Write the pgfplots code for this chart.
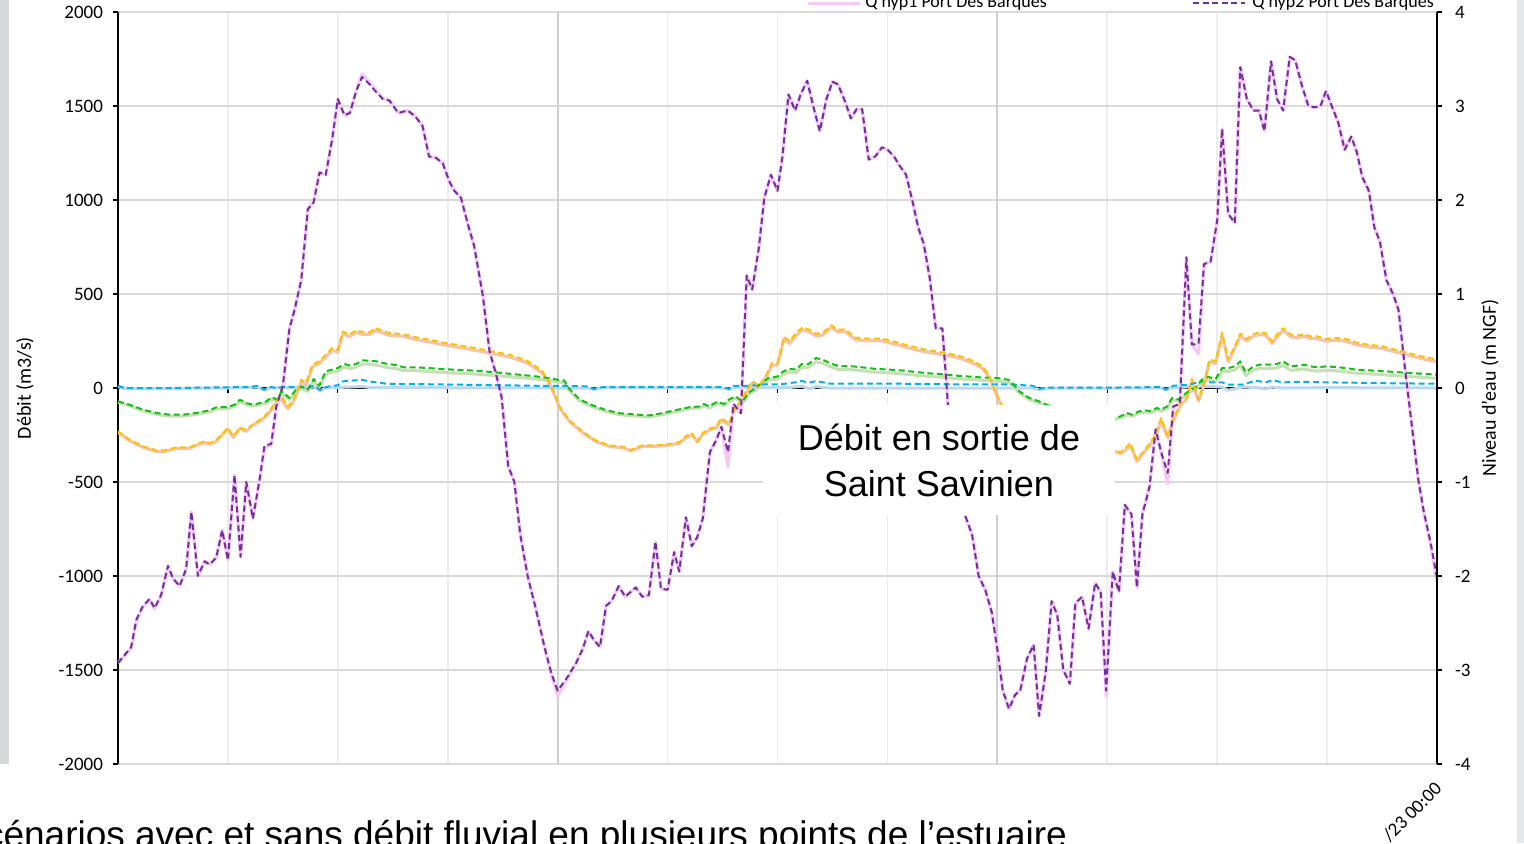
\documentclass[border=0pt]{standalone}
\usepackage{fontspec}
\setmainfont{Carlito}
\newfontfamily\arialf{Liberation Sans}
\usepackage{pgfplots}
\usepackage{pgfplotstable}
\pgfplotsset{compat=1.18}
\definecolor{cPurple}{HTML}{7030A0}
\definecolor{cPink}{HTML}{F8C8F4}
\definecolor{cGold}{HTML}{FFC000}
\definecolor{cSalmon}{HTML}{F6C4A4}
\definecolor{cGreen}{HTML}{12C012}
\definecolor{cPaleGreen}{HTML}{C5E0B4}
\definecolor{cBlue}{HTML}{00B0F0}
\definecolor{cPaleBlue}{HTML}{BDD7EE}
\definecolor{gridH}{HTML}{D9D9D9}
\definecolor{gridV}{HTML}{EDEDED}
\definecolor{gridV2}{HTML}{D0D0D0}
\definecolor{stripL}{HTML}{D5D9D9}
\definecolor{stripR}{HTML}{E5E8EB}

\pgfplotstableread{
x a b
0 -1463 -1463
0.12 -1378 -1385
0.167 -1232 -1240
0.227 -1159 -1165
0.288 -1122 -1125
0.333 -1171 -1175
0.394 -1098 -1100
0.455 -946 -950
0.5 -1012 -1012
0.56 -1054 -1054
0.62 -963 -963
0.667 -659 -659
0.727 -1000 -1000
0.788 -922 -922
0.833 -939 -939
0.894 -902 -902
0.948 -756 -756
1.0 -915 -915
1.06 -463 -463
1.115 -898 -898
1.167 -500 -500
1.227 -695 -695
1.288 -488 -488
1.333 -305 -320
1.394 -298 -300
1.44 -98 -110
1.5 12 12
1.56 317 317
1.606 415 415
1.667 573 573
1.727 951 951
1.78 988 988
1.833 1146 1146
1.89 1134 1134
1.95 1329 1329
2.0 1537 1537
2.06 1451 1451
2.11 1463 1463
2.167 1580 1580
2.22 1654 1670
2.29 1615 1625
2.35 1573 1580
2.41 1537 1540
2.47 1529 1529
2.55 1463 1463
2.636 1476 1476
2.706 1444 1444
2.77 1395 1395
2.83 1232 1232
2.894 1224 1224
2.955 1195 1195
3.015 1098 1098
3.06 1049 1049
3.12 1012 1012
3.18 878 878
3.24 756 756
3.32 488 488
3.38 195 195
3.44 73 73
3.49 -49 -49
3.55 -415 -415
3.606 -500 -500
3.66 -780 -780
3.727 -1000 -1000
3.8 -1171 -1171
3.88 -1378 -1378
3.94 -1512 -1520
4.0 -1610 -1640
4.09 -1537 -1545
4.167 -1463 -1463
4.227 -1390 -1390
4.28 -1293 -1293
4.33 -1341 -1341
4.385 -1378 -1378
4.44 -1159 -1159
4.49 -1134 -1134
4.555 -1054 -1054
4.615 -1110 -1110
4.71 -1061 -1061
4.77 -1110 -1110
4.83 -1102 -1102
4.89 -817 -817
4.94 -1068 -1068
5.0 -1073 -1073
5.06 -873 -873
5.106 -976 -976
5.167 -688 -688
5.22 -841 -841
5.27 -793 -793
5.32 -695 -695
5.385 -341 -341
5.44 -280 -280
5.49 -207 -207
5.55 -341 -420
5.6 -85 -85
5.667 -134 -134
5.72 598 598
5.77 524 524
5.83 744 744
5.88 1012 1012
5.94 1134 1134
6.0 1049 1049
6.045 1232 1232
6.1 1561 1561
6.16 1476 1476
6.21 1561 1561
6.27 1634 1634
6.33 1488 1488
6.385 1366 1366
6.445 1537 1537
6.5 1629 1629
6.55 1615 1615
6.615 1524 1524
6.667 1434 1434
6.72 1483 1483
6.77 1483 1483
6.83 1215 1215
6.89 1232 1232
6.95 1280 1280
7.0 1268 1268
7.06 1232 1232
7.11 1183 1183
7.17 1134 1134
7.23 988 988
7.28 854 854
7.33 768 768
7.385 585 585
7.44 317 317
7.5 317 317
7.55 -85 -85
7.6 -300 -300
7.71 -683 -683
7.77 -780 -780
7.83 -1000 -1000
7.89 -1073 -1073
7.95 -1195 -1195
8.0 -1390 -1390
8.05 -1610 -1610
8.106 -1707 -1707
8.16 -1634 -1634
8.21 -1605 -1605
8.27 -1439 -1439
8.33 -1366 -1366
8.38 -1744 -1744
8.44 -1512 -1512
8.494 -1134 -1134
8.545 -1207 -1207
8.6 -1500 -1500
8.66 -1573 -1573
8.71 -1146 -1146
8.77 -1110 -1110
8.83 -1280 -1280
8.89 -1037 -1037
8.94 -1085 -1085
8.99 -1610 -1640
9.05 -976 -976
9.106 -1085 -1085
9.16 -622 -622
9.22 -671 -671
9.27 -1061 -1061
9.32 -671 -671
9.385 -524 -524
9.44 -220 -220
9.49 -341 -341
9.55 -451 -510
9.6 -98 -98
9.66 -85 -85
9.72 695 695
9.77 232 232
9.83 232 180
9.88 659 659
9.94 671 671
10.0 890 890
10.045 1378 1378
10.1 927 927
10.16 878 878
10.21 1707 1707
10.27 1537 1537
10.33 1476 1476
10.38 1476 1476
10.43 1366 1366
10.49 1737 1737
10.545 1537 1537
10.6 1476 1476
10.66 1761 1761
10.71 1744 1744
10.77 1610 1610
10.83 1500 1500
10.89 1493 1493
10.94 1500 1500
10.99 1580 1580
11.05 1488 1488
11.1 1415 1415
11.16 1268 1268
11.22 1337 1337
11.27 1256 1256
11.32 1122 1122
11.38 1049 1049
11.43 854 854
11.48 780 780
11.54 573 573
11.6 500 500
11.65 415 415
11.71 98 98
11.77 -195 -195
11.83 -488 -488
11.88 -659 -665
11.94 -817 -830
12.0 -1012 -1030
}\tPurple

\pgfplotstableread{
x a b
0 -230 -236
0.106 -275 -281
0.227 -310 -316
0.35 -332 -338
0.424 -332 -338
0.53 -316 -322
0.65 -316 -322
0.727 -296 -302
0.79 -284 -290
0.833 -293 -299
0.894 -278 -284
0.955 -239 -245
1.0 -213 -219
1.05 -257 -263
1.11 -209 -215
1.167 -225 -231
1.22 -195 -201
1.27 -177 -183
1.33 -154 -160
1.39 -112 -120
1.44 -71 -80
1.485 -44 -60
1.545 -98 -110
1.59 -71 -80
1.636 -9 -20
1.667 44 30
1.71 27 15
1.77 124 112
1.83 142 130
1.89 177 165
1.95 213 200
2.0 204 192
2.045 301 290
2.106 284 272
2.167 307 295
2.227 298 286
2.29 296 284
2.34 319 307
2.4 307 295
2.46 293 281
2.59 287 275
2.71 270 258
2.83 257 245
2.95 243 231
3.076 230 218
3.2 218 206
3.32 204 192
3.44 191 179
3.56 177 165
3.65 160 148
3.73 142 130
3.8 115 103
3.86 89 77
3.92 35 25
3.97 -27 -35
4.015 -98 -104
4.106 -171 -177
4.227 -232 -238
4.35 -280 -286
4.47 -305 -311
4.59 -312 -318
4.667 -329 -335
4.77 -305 -311
4.89 -305 -311
5.015 -298 -304
5.106 -288 -294
5.167 -256 -265
5.22 -239 -250
5.27 -288 -285
5.32 -239 -248
5.385 -215 -222
5.44 -207 -214
5.49 -159 -170
5.56 -190 -196
5.6 -122 -130
5.66 -73 -82
5.72 -12 -22
5.77 37 25
5.83 12 2
5.89 61 50
5.95 134 122
6.0 134 122
6.06 273 261
6.11 249 237
6.17 293 281
6.227 322 310
6.29 310 298
6.35 288 276
6.41 293 281
6.49 334 322
6.55 310 298
6.615 312 300
6.71 268 256
6.83 263 251
6.95 263 251
7.076 244 232
7.2 224 212
7.32 207 195
7.44 195 183
7.56 183 171
7.68 166 154
7.77 146 134
7.86 117 105
7.92 73 63
7.97 0 -8
8.015 -61 -68
8.1 -160 -166
8.3 -240 -246
8.5 -290 -296
8.8 -320 -326
9.0 -330 -336
9.06 -328 -334
9.12 -342 -350
9.167 -319 -330
9.21 -293 -305
9.27 -381 -390
9.33 -337 -345
9.38 -301 -310
9.44 -248 -258
9.49 -160 -175
9.55 -257 -265
9.6 -168 -178
9.667 -80 -90
9.72 -53 -62
9.77 48 30
9.83 -62 -70
9.88 27 15
9.93 151 139
9.985 142 130
10.045 293 281
10.1 151 139
10.16 222 210
10.21 289 277
10.27 261 249
10.33 287 275
10.385 296 284
10.44 293 281
10.5 248 236
10.545 284 272
10.6 319 307
10.67 284 272
10.73 278 266
10.79 287 275
10.85 275 263
10.91 275 263
10.99 261 249
11.076 266 254
11.17 261 249
11.26 243 231
11.38 230 218
11.5 222 210
11.62 204 192
11.74 186 174
11.86 168 156
12.0 151 139
}\tOrange

\pgfplotstableread{
x a b
0 -71 -76
0.106 -89 -95
0.227 -115 -122
0.35 -133 -141
0.47 -142 -150
0.59 -142 -150
0.71 -133 -141
0.83 -119 -127
0.894 -103 -112
1.0 -101 -109
1.06 -89 -97
1.11 -62 -72
1.167 -80 -88
1.227 -89 -96
1.29 -80 -88
1.35 -71 -80
1.4 -48 -58
1.445 -62 -70
1.49 -18 -28
1.56 -53 -62
1.62 -9 -18
1.667 9 -2
1.727 -9 -18
1.78 48 35
1.83 12 2
1.89 89 75
1.95 98 84
2.0 106 90
2.06 128 112
2.11 119 103
2.17 129 112
2.227 147 128
2.29 145 126
2.35 142 122
2.44 129 110
2.53 122 103
2.6 110 92
2.71 110 92
2.83 106 88
2.95 101 83
3.076 97 79
3.2 94 76
3.32 89 71
3.44 83 66
3.56 76 60
3.68 69 54
3.8 62 48
3.92 53 40
4.0 44 32
4.06 40 28
4.1 0 -10
4.2 -61 -70
4.32 -93 -101
4.44 -117 -125
4.56 -134 -142
4.71 -141 -149
4.83 -146 -154
4.95 -134 -142
5.076 -117 -125
5.14 -110 -118
5.2 -102 -110
5.29 -98 -106
5.33 -85 -95
5.38 -98 -106
5.45 -73 -83
5.515 -85 -93
5.56 -61 -70
5.62 -44 -53
5.68 -73 -80
5.74 -24 -33
5.8 0 -10
5.86 29 18
5.92 54 42
6.0 61 48
6.045 85 70
6.1 102 86
6.17 98 82
6.22 127 110
6.28 127 110
6.35 159 140
6.41 151 132
6.47 134 116
6.56 115 97
6.65 117 99
6.77 110 92
6.89 102 84
7.015 98 80
7.14 93 75
7.26 85 68
7.38 78 62
7.5 73 57
7.62 66 50
7.74 61 46
7.86 56 41
7.985 54 38
8.1 44 30
8.136 27 15
8.2 -18 -26
8.29 -53 -61
8.38 -71 -79
8.45 -89 -97
8.6 -120 -128
8.8 -150 -158
9.0 -160 -168
9.06 -160 -168
9.12 -151 -159
9.18 -133 -142
9.227 -142 -150
9.29 -124 -133
9.35 -119 -128
9.4 -124 -132
9.45 -106 -115
9.49 -115 -123
9.545 -98 -107
9.59 -53 -63
9.65 -62 -71
9.7 -35 -45
9.76 -9 -19
9.81 5 -6
9.86 44 30
9.92 59 44
9.985 48 34
10.045 106 88
10.1 106 88
10.16 115 96
10.21 142 122
10.26 83 66
10.33 115 96
10.385 124 104
10.44 124 104
10.49 124 104
10.545 128 107
10.6 142 120
10.67 115 94
10.73 119 98
10.79 124 102
10.85 115 94
10.91 110 90
10.99 115 94
11.076 112 92
11.17 106 86
11.26 98 79
11.38 94 75
11.5 90 71
11.62 85 66
11.74 80 61
11.86 76 57
12.0 71 52
}\tGreen

\pgfplotstableread{
x v
0 12
0.06 0
0.5 0
1.0 4
1.2 5
1.27 12
1.33 -9
1.39 5
1.44 0
1.5 5
1.74 5
1.79 12
1.84 -12
1.89 5
1.95 12
2.0 14
2.045 35
2.1 39
2.17 41
2.22 44
2.29 35
2.35 30
2.44 23
2.6 21
2.83 20
3.08 18
3.32 16
3.56 14
3.8 12
4.0 12
4.2 10
4.27 8
4.33 -5
4.41 5
5.0 5
5.5 5
5.56 -5
5.6 12
5.74 12
5.89 20
6.0 20
6.1 24
6.22 37
6.29 29
6.35 37
6.47 24
6.65 24
6.95 24
7.26 22
7.56 20
7.86 20
8.1 20
8.32 12
8.38 -5
8.45 2
9.0 2
9.5 5
9.53 -9
9.6 12
9.74 18
9.86 35
9.92 30
10.045 30
10.1 18
10.23 18
10.35 39
10.44 30
10.5 41
10.6 30
10.7 32
10.83 32
10.99 30
11.26 28
11.56 25
12.0 23
}\tBlue

\pgfplotstableread{
x v
0 8
0.06 -3
1.0 0
1.27 5
1.33 -12
1.39 2
1.79 5
1.84 -15
1.89 0
2.0 3
2.1 5
2.22 8
2.29 3
2.6 2
4.0 0
4.27 0
4.33 -8
4.41 2
5.5 0
5.56 -8
5.6 3
6.1 2
6.22 10
6.29 -5
6.35 8
6.47 0
8.1 0
8.32 0
8.38 -8
8.45 0
9.5 0
9.53 -10
9.6 2
9.86 10
10.045 5
10.1 -12
10.23 5
10.35 3
10.44 -5
10.5 5
10.6 0
11.0 2
12.0 0
}\tPaleBlue

\begin{document}
\begin{tikzpicture}
\begin{axis}[
  width=659.5pt, height=376pt, scale only axis,
  at={(0pt,0pt)}, anchor=south west,
  xmin=0, xmax=12, ymin=-2000, ymax=2000,
  axis y line*=left, axis x line*=middle,
  axis line style={black, line width=0.7pt},
  xtick={1,2,3,4,5,6,7,8,9,10,11}, xticklabels={},
  ytick={-2000,-1500,-1000,-500,0,500,1000,1500,2000},
  grid=major,
  x grid style={gridV, line width=0.8pt},
  y grid style={gridH, line width=0.8pt},
  tick align=outside, major tick length=2.5pt,
  tick style={black, line width=0.6pt},
  yticklabel style={font=\fontsize{9.5}{10}\selectfont, xshift=-1.5pt},
  /pgf/number format/1000 sep={},
  /pgf/number format/assume math mode=true,
  every axis y label/.style={at={(axis description cs:-0.0705,0.5)}, anchor=center, rotate=90, font=\fontsize{10}{12}\selectfont},
  ylabel={Débit (m3/s)},
  line join=round,
]
\draw[gridV2, line width=0.9pt] (axis cs:4,-2000) -- (axis cs:4,2000);
\draw[gridV2, line width=0.9pt] (axis cs:8,-2000) -- (axis cs:8,2000);
\addplot[cPaleBlue, line width=1.5pt] table[x=x,y=v] {\tPaleBlue};
\addplot[cPaleGreen, line width=1.5pt] table[x=x,y=b] {\tGreen};
\addplot[cSalmon, line width=1.5pt] table[x=x,y=b] {\tOrange};
\addplot[cPink, line width=1.6pt] table[x=x,y=b] {\tPurple};
\addplot[cBlue, line width=1pt, dash pattern=on 3pt off 1.8pt] table[x=x,y=v] {\tBlue};
\addplot[cGreen, line width=1pt, dash pattern=on 3pt off 1.8pt] table[x=x,y=a] {\tGreen};
\addplot[cGold, line width=1pt, dash pattern=on 3pt off 1.8pt] table[x=x,y=a] {\tOrange};
\addplot[cPurple, line width=1pt, dash pattern=on 3pt off 1.8pt] table[x=x,y=a] {\tPurple};
\end{axis}
\begin{axis}[
  width=659.5pt, height=376pt, scale only axis,
  at={(0pt,0pt)}, anchor=south west,
  xmin=0, xmax=12, ymin=-4, ymax=4,
  axis y line*=right, axis x line=none,
  axis line style={black, line width=0.7pt},
  ytick={-4,-3,-2,-1,0,1,2,3,4},
  tick align=outside, major tick length=2.5pt,
  tick style={black, line width=0.6pt},
  yticklabel style={font=\fontsize{9.5}{10}\selectfont, xshift=3pt},
  /pgf/number format/assume math mode=true,
  every axis y label/.style={at={(axis description cs:1.0402,0.5)}, anchor=center, rotate=90, font=\fontsize{10}{12}\selectfont},
  ylabel={Niveau d'eau (m NGF)},
]
\addplot[draw=none] coordinates {(0,0)};
\end{axis}
% text box
\fill[white] (322.5pt,124.5pt) rectangle (498.5pt,179.5pt);
\node[anchor=base, inner sep=0pt, font=\arialf\fontsize{18}{22}\selectfont] at (410.5pt,156.6pt) {Débit en sortie de};
\node[anchor=base, inner sep=0pt, font=\arialf\fontsize{18}{22}\selectfont] at (410.5pt,134pt) {Saint Savinien};
% legend (cropped)
\draw[cPink, line width=1.5pt] (345pt,380.5pt) -- (371pt,380.5pt);
\node[anchor=base west, inner sep=0pt, font=\fontsize{9}{11}\selectfont] at (373.5pt,378pt) {Q hyp1 Port Des Barques};
\draw[cPurple, line width=1pt, dash pattern=on 3pt off 1.8pt] (537.5pt,380.5pt) -- (563.5pt,380.5pt);
\node[anchor=base west, inner sep=0pt, font=\fontsize{9}{11}\selectfont] at (567pt,378pt) {Q hyp2 Port Des Barques};
% x tick label (cropped)
\node[rotate=45, anchor=east, inner sep=1pt, font=\fontsize{9.5}{11}\selectfont] at (661pt,-10pt) {/23 00:00};
% bottom slide text (cropped)
\node[anchor=base west, inner sep=0pt, font=\arialf\fontsize{18.5}{22}\selectfont] at (-79pt,-41.5pt) {Scénarios avec et sans débit fluvial en plusieurs points de l’estuaire};
% slide edges
\fill[stripL] (-59pt,0pt) rectangle (-54.5pt,382pt);
\fill[stripR] (699.5pt,-39.5pt) rectangle (703pt,382pt);
\pgfresetboundingbox
\path[use as bounding box] (-59pt,-39.5pt) rectangle (703pt,382pt);
\end{tikzpicture}
\end{document}
